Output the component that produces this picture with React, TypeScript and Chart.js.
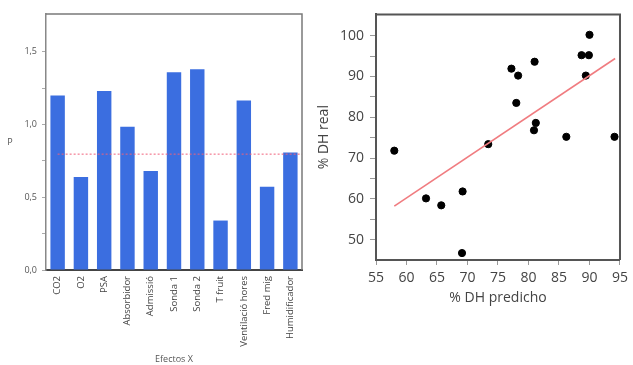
import React, { useEffect, useRef } from "react";
import { Chart, registerables } from "chart.js";
Chart.register(...registerables);

// ---- Left chart data ----
const effectLabels = [
  "CO2", "O2", "PSA", "Absorbidor", "Admissió", "Sonda 1", "Sonda 2",
  "T fruit", "Ventilació hores", "Fred mig", "Humidificador",
];
const effectValues = [1.2, 0.64, 1.23, 0.985, 0.68, 1.36, 1.38, 0.34, 1.165, 0.573, 0.807];
const thresholdP = 0.8;
const leftMajorTicks = [0, 0.5, 1.0, 1.5];
const leftMinorTicks = [0.25, 0.75, 1.25];

// ---- Right chart data ----
const predictedDH = [58.0, 63.2, 65.7, 69.2, 69.1, 73.4, 77.2, 78.0, 78.3, 80.9, 81.0, 81.2, 86.2, 88.7, 89.4, 89.9, 90.0, 94.1];
const realDH = [71.8, 60.1, 58.4, 61.8, 46.7, 73.4, 91.9, 83.5, 90.2, 76.8, 93.6, 78.6, 75.2, 95.2, 90.2, 95.2, 100.2, 75.2];
const fitX = [58.0, 94.2];
const fitY = [58.2, 94.4];
const rightYTicks = [50, 55, 60, 65, 70, 75, 80, 85, 90, 95, 100];

const FONT = "'Open Sans', 'Noto Sans', sans-serif";

function LeftChart() {
  const ref = useRef<HTMLCanvasElement>(null);
  useEffect(() => {
    const framePlugin = {
      id: "leftFrame",
      afterDatasetsDraw(chart: any) {
        const { ctx, chartArea, scales } = chart;
        // threshold line
        const y = scales.y.getPixelForValue(thresholdP);
        const x0 = scales.x.getPixelForValue(0);
        ctx.save();
        ctx.strokeStyle = "#F0607A";
        ctx.lineWidth = 1;
        ctx.setLineDash([2, 2]);
        ctx.beginPath();
        ctx.moveTo(x0, y + 0.5);
        ctx.lineTo(chartArea.right, y + 0.5);
        ctx.stroke();
        ctx.restore();
      },
      afterDraw(chart: any) {
        const { ctx, chartArea } = chart;
        ctx.save();
        ctx.strokeStyle = "#7a7a7a";
        ctx.lineWidth = 1.5;
        ctx.beginPath();
        ctx.moveTo(chartArea.left, chartArea.top);
        ctx.lineTo(chartArea.right, chartArea.top);
        ctx.lineTo(chartArea.right, chartArea.bottom);
        ctx.stroke();
        ctx.fillStyle = "#555";
        ctx.font = `9px ${FONT}`;
        ctx.textAlign = "center";
        ctx.textBaseline = "middle";
        ctx.fillText("P", 10, (chartArea.top + chartArea.bottom) / 2);
        ctx.restore();
      },
    };
    const chart = new Chart(ref.current!, {
      type: "bar",
      data: {
        labels: effectLabels,
        datasets: [
          {
            data: effectValues,
            backgroundColor: "#3B6EE0",
            borderWidth: 0,
            barPercentage: 0.62,
            categoryPercentage: 1,
          },
        ],
      },
      options: {
        responsive: false,
        animation: false,
        layout: { padding: { top: 14, right: 10, left: 0, bottom: 0 } },
        plugins: { legend: { display: false }, tooltip: { enabled: false } },
        scales: {
          x: {
            grid: { display: true, drawOnChartArea: false, drawTicks: false },
            border: { display: true, color: "#444", width: 2 },
            ticks: {
              autoSkip: false,
              minRotation: 90,
              maxRotation: 90,
              padding: 6,
              color: "#444",
              font: { family: FONT, size: 9.5 },
            },
            title: {
              display: true,
              text: "Efectos X",
              color: "#555",
              padding: { top: 0, bottom: 0 },
              font: { family: FONT, size: 9 },
            },
            afterFit(scale: any) {
              scale.height = 95;
            },
          },
          y: {
            min: 0,
            max: 1.76,
            afterBuildTicks(scale: any) {
              scale.ticks = [...leftMajorTicks, ...leftMinorTicks]
                .sort((a, b) => a - b)
                .map((v) => ({ value: v }));
            },
            grid: { display: true, drawOnChartArea: false, tickLength: 4, color: "#aaa" },
            border: { display: true, color: "#888", width: 1.5 },
            ticks: {
              padding: 5,
              color: "#555",
              font: { family: FONT, size: 9 },
              callback: (v: any) =>
                leftMajorTicks.includes(Number(v)) ? Number(v).toFixed(1).replace(".", ",") : "",
            },
            afterFit(scale: any) {
              scale.width = 46;
            },
          },
        },
      },
      plugins: [framePlugin],
    });
    return () => chart.destroy();
  }, []);
  return (
    <canvas
      ref={ref}
      width={312}
      height={365}
      style={{ position: "absolute", left: 0, top: 0, width: 312, height: 365 }}
    />
  );
}

function RightChart() {
  const ref = useRef<HTMLCanvasElement>(null);
  useEffect(() => {
    const framePlugin = {
      id: "rightFrame",
      afterDraw(chart: any) {
        const { ctx, chartArea } = chart;
        ctx.save();
        ctx.strokeStyle = "#555";
        ctx.lineWidth = 2;
        ctx.beginPath();
        ctx.moveTo(chartArea.left, chartArea.top);
        ctx.lineTo(chartArea.right, chartArea.top);
        ctx.lineTo(chartArea.right, chartArea.bottom);
        ctx.stroke();
        ctx.restore();
      },
    };
    const chart = new Chart(ref.current!, {
      type: "scatter",
      data: {
        datasets: [
          {
            type: "line",
            data: fitX.map((x, i) => ({ x, y: fitY[i] })),
            borderColor: "#F07C80",
            borderWidth: 1.6,
            pointRadius: 0,
            fill: false,
          },
          {
            data: predictedDH.map((x, i) => ({ x, y: realDH[i] })),
            backgroundColor: "#000",
            borderColor: "#000",
            pointRadius: 3.6,
          },
        ],
      },
      options: {
        responsive: false,
        animation: false,
        layout: { padding: { top: 10, right: 9, left: 0, bottom: 55 } },
        plugins: { legend: { display: false }, tooltip: { enabled: false } },
        scales: {
          x: {
            type: "linear",
            min: 55,
            max: 95,
            ticks: {
              stepSize: 5,
              padding: 5,
              color: "#444",
              font: { family: FONT, size: 14 },
            },
            grid: { display: true, drawOnChartArea: false, tickLength: 5, color: "#999" },
            border: { display: true, color: "#555", width: 2 },
            title: {
              display: true,
              text: "% DH predicho",
              color: "#444",
              padding: { top: 0, bottom: 4 },
              font: { family: FONT, size: 14 },
            },
            afterFit(scale: any) {
              scale.height = 50;
            },
          },
          y: {
            min: 45,
            max: 105.2,
            afterBuildTicks(scale: any) {
              scale.ticks = rightYTicks.map((v) => ({ value: v }));
            },
            ticks: {
              padding: 6,
              color: "#444",
              font: { family: FONT, size: 14 },
              callback: (v: any) => (Number(v) % 10 === 0 ? String(v) : ""),
            },
            grid: { display: true, drawOnChartArea: false, tickLength: 6, color: "#999" },
            border: { display: true, color: "#555", width: 2 },
            title: {
              display: true,
              text: "% DH real",
              color: "#444",
              padding: { top: 4, bottom: 0 },
              font: { family: FONT, size: 14 },
            },
            afterFit(scale: any) {
              scale.width = 64;
            },
          },
        },
      },
      plugins: [framePlugin],
    });
    return () => chart.destroy();
  }, []);
  return (
    <canvas
      ref={ref}
      width={321}
      height={365}
      style={{ position: "absolute", left: 312, top: 0, width: 321, height: 365 }}
    />
  );
}

export default function App() {
  return (
    <div
      style={{
        position: "fixed",
        left: 0,
        top: 0,
        width: 633,
        height: 365,
        background: "#fff",
        overflow: "hidden",
      }}
    >
      <LeftChart />
      <RightChart />
    </div>
  );
}
